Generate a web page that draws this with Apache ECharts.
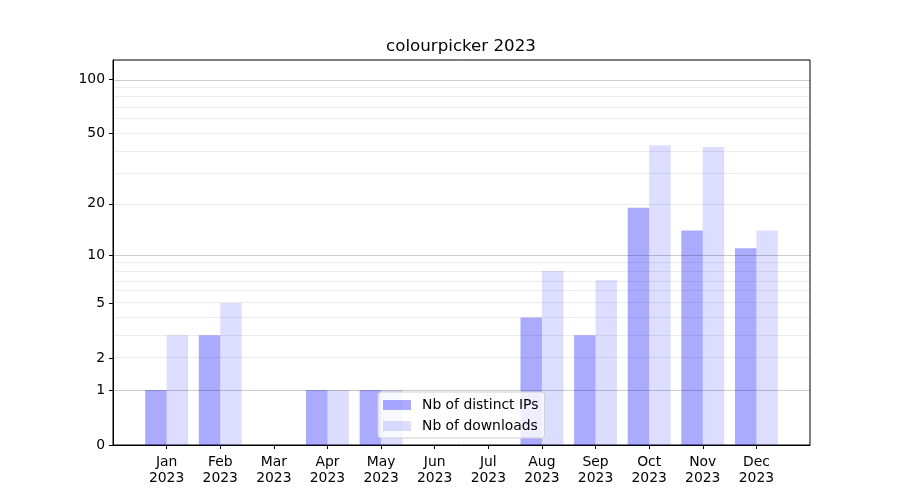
<!DOCTYPE html>
<html>
<head>
<meta charset="utf-8">
<script src="https://cdn.jsdelivr.net/npm/echarts@6/dist/echarts.min.js"></script>
<style>html,body{margin:0;padding:0;background:#fff;}#c{width:900px;height:500px;}</style>
</head>
<body>
<div id="c"></div>
<script>
const months = ['Jan','Feb','Mar','Apr','May','Jun','Jul','Aug','Sep','Oct','Nov','Dec'];
const year = '2023';
const distinctIPs = [1, 3, 0, 1, 1, 0, 0, 4, 3, 19, 14, 11];
const downloads   = [3, 5, 0, 1, 1, 0, 0, 8, 7, 43, 42, 14];
const majorTicks = [0, 1, 2, 5, 10, 20, 50, 100];
const decadeGrid = [1, 10, 100];
const minorGrid = [2, 3, 4, 5, 6, 7, 8, 9, 20, 30, 40, 50, 60, 70, 80, 90];
const yMaxValue = 128;

const fwd = v => Math.log10(1 + v);
const inv = t => Math.round(Math.pow(10, t) - 1);

const cats = [''].concat(months.map(m => m + '\n' + year)).concat(['']);
const pad = arr => [null].concat(arr.map(fwd)).concat([null]);

const font = 'DejaVu Sans';
const chart = echarts.init(document.getElementById('c'));
chart.setOption({
  animation: false,
  backgroundColor: '#fff',
  title: {
    text: 'colourpicker ' + year,
    left: 461, top: 38, textAlign: 'center', padding: 0,
    textStyle: { fontFamily: font, fontSize: 16.67, fontWeight: 'normal', color: '#000' }
  },
  grid: { left: 113, right: 90, top: 60, bottom: 55, show: true, borderColor: '#000', borderWidth: 1, backgroundColor: 'transparent' },
  legend: {
    data: ['Nb of distinct IPs', 'Nb of downloads'],
    orient: 'vertical', left: 378, top: 392,
    itemWidth: 28, itemHeight: 10, itemGap: 7,
    padding: [6, 6, 5, 5],
    backgroundColor: 'rgba(255,255,255,0.8)', borderColor: '#d0d0d0', borderWidth: 1, borderRadius: 3,
    textStyle: { fontFamily: font, fontSize: 13.9, color: '#000', padding: [0, 0, 0, 6] },
    icon: 'rect'
  },
  xAxis: {
    type: 'category', data: cats, boundaryGap: false,
    axisLine: { lineStyle: { color: '#000', width: 1 } },
    axisTick: { length: 4, interval: (i, v) => v !== '', lineStyle: { color: '#000' } },
    axisLabel: { interval: 0, margin: 9, fontFamily: font, fontSize: 13.9, lineHeight: 16, color: '#000' },
    splitLine: { show: false }
  },
  yAxis: {
    type: 'value', min: 0, max: fwd(yMaxValue),
    axisLine: { show: true, lineStyle: { color: '#000', width: 1 } },
    axisTick: { show: true, length: 4, customValues: majorTicks.map(fwd), lineStyle: { color: '#000' } },
    axisLabel: { customValues: majorTicks.map(fwd), formatter: v => String(inv(v)), margin: 8, fontFamily: font, fontSize: 13.9, color: '#000' },
    splitLine: { show: false }
  },
  series: [
    { name: 'Nb of distinct IPs', type: 'bar', data: pad(distinctIPs), barWidth: '40%', barGap: '0%',
      itemStyle: { color: 'rgba(0,0,255,0.333)' } },
    { name: 'Nb of downloads', type: 'bar', data: pad(downloads), barWidth: '40%', barGap: '0%',
      itemStyle: { color: 'rgba(0,0,255,0.135)' } },
    { name: 'grid', type: 'line', data: cats.map(() => null), showSymbol: false, z: 5, silent: true,
      markLine: {
        silent: true, symbol: 'none', label: { show: false }, animation: false,
        data: decadeGrid.map(v => ({ yAxis: fwd(v), lineStyle: { color: 'rgba(0,0,0,0.2)', width: 1, type: 'solid' } }))
          .concat(minorGrid.map(v => ({ yAxis: fwd(v), lineStyle: { color: 'rgba(0,0,0,0.07)', width: 1, type: 'solid' } })))
      }
    }
  ]
});
</script>
</body>
</html>
